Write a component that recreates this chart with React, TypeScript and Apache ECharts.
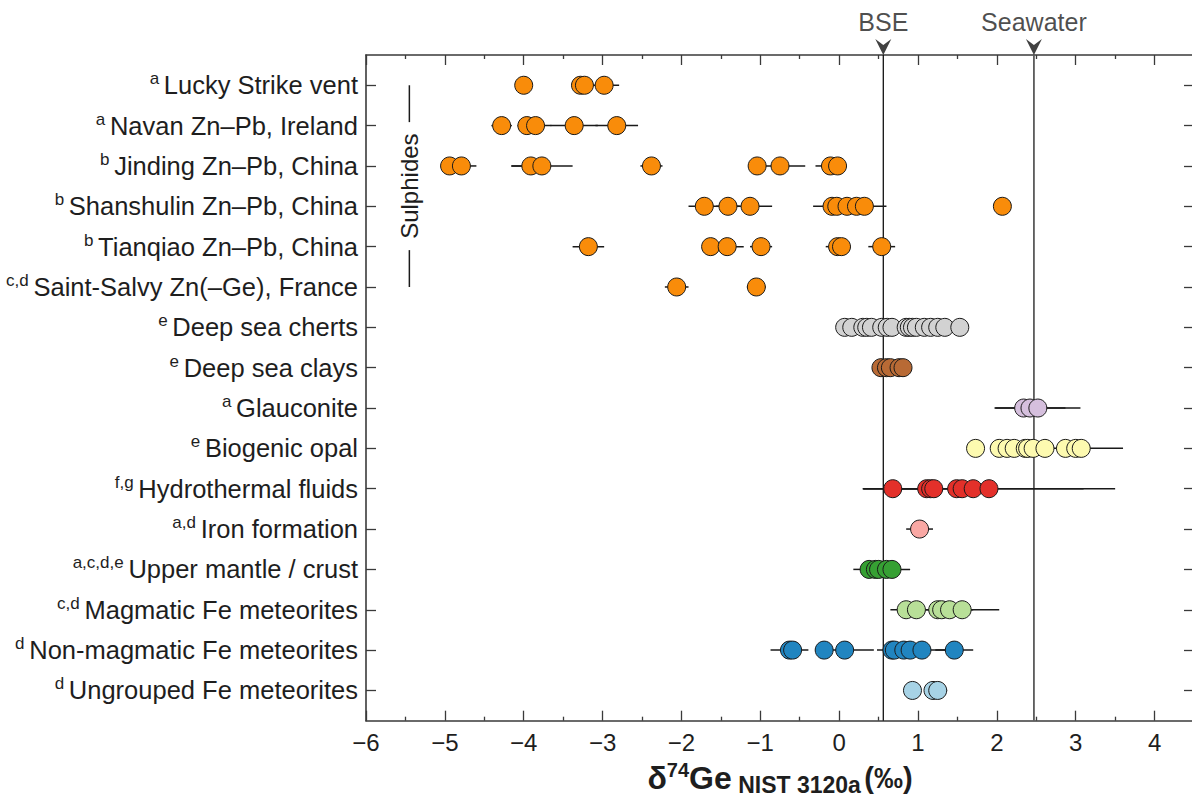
import React, { useEffect, useRef } from "react";
import * as echarts from "echarts";

// ---- categories (top to bottom) ----
const categoryNames = [
  "Lucky Strike vent",
  "Navan Zn–Pb, Ireland",
  "Jinding Zn–Pb, China",
  "Shanshulin Zn–Pb, China",
  "Tianqiao Zn–Pb, China",
  "Saint-Salvy Zn(–Ge), France",
  "Deep sea cherts",
  "Deep sea clays",
  "Glauconite",
  "Biogenic opal",
  "Hydrothermal fluids",
  "Iron formation",
  "Upper mantle / crust",
  "Magmatic Fe meteorites",
  "Non-magmatic Fe meteorites",
  "Ungrouped Fe meteorites",
];
const footnotes = ["a", "a", "b", "b", "b", "c,d", "e", "e", "a", "e", "f,g", "a,d", "a,c,d,e", "c,d", "d", "d"];

// ---- δ74Ge values (‰) and ± errors ----
const luckyStrike = [-4.0, -3.28, -3.23, -2.98];
const luckyStrikeErr = [0, 0.11, 0.08, 0.19];
const navan = [-4.28, -3.96, -3.85, -3.36, -2.82];
const navanErr = [0.13, 0.12, 0.2, 0.3, 0.27];
const jinding = [-4.94, -4.79, -3.91, -3.77, -2.38, -1.04, -0.75, -0.11, -0.02];
const jindingErr = [0.1, 0.19, 0.24, 0.39, 0.14, 0.1, 0.32, 0.19, 0.11];
const shanshulin = [-1.71, -1.41, -1.13, -0.09, -0.03, 0.1, 0.22, 0.32, 2.07];
const shanshulinErr = [0.2, 0.15, 0.28, 0.24, 0.1, 0.12, 0.15, 0.28, 0.05];
const tianqiao = [-3.18, -1.63, -1.42, -0.99, -0.02, 0.03, 0.54];
const tianqiaoErr = [0.2, 0.1, 0.21, 0.14, 0.15, 0.12, 0.17];
const saintSalvy = [-2.06, -1.05];
const saintSalvyErr = [0.15, 0.12];
const cherts = [0.07, 0.16, 0.3, 0.35, 0.41, 0.54, 0.61, 0.67, 0.85, 0.89, 0.93, 0.98, 1.08, 1.16, 1.25, 1.34, 1.53];
const chertsErr = [0, 0, 0, 0, 0, 0, 0, 0, 0, 0, 0, 0, 0, 0, 0, 0, 0];
const clays = [0.53, 0.6, 0.65, 0.76, 0.81];
const claysErr = [0, 0, 0, 0, 0];
const glauconite = [2.34, 2.42, 2.52];
const glauconiteErr = [0.1, 0.45, 0.54];
const opal = [1.73, 2.03, 2.13, 2.22, 2.36, 2.39, 2.46, 2.61, 2.87, 3.0, 3.07];
const opalErr = [0, 0, 0, 0, 0, 0, 0, 0, 0, 0, 0.53];
const hydrothermal = [0.68, 1.11, 1.16, 1.2, 1.49, 1.56, 1.7, 1.9];
const hydrothermalErr = [0.37, 0, 0, 0.5, 0, 0, 1.4, 1.6];
const ironFormation = [1.02];
const ironFormationErr = [0.17];
const upperMantle = [0.38, 0.46, 0.5, 0.6, 0.67];
const upperMantleErr = [0.2, 0, 0, 0, 0.23];
const magmatic = [0.85, 0.98, 1.25, 1.3, 1.4, 1.56];
const magmaticErr = [0.2, 0, 0, 0, 0.3, 0.47];
const nonMagmatic = [-0.63, -0.59, -0.19, 0.07, 0.67, 0.7, 0.82, 0.9, 1.05, 1.46];
const nonMagmaticErr = [0.24, 0, 0, 0.37, 0, 0.22, 0, 0, 0.3, 0.24];
const ungrouped = [0.93, 1.19, 1.25];
const ungroupedErr = [0.11, 0, 0.12];

const bseValue = 0.56;
const seawaterValue = 2.47;

const xTickValues = [-6, -5, -4, -3, -2, -1, 0, 1, 2, 3, 4];
const xMinorTickValues = [-5.5, -4.5, -3.5, -2.5, -1.5, -0.5, 0.5, 1.5, 2.5, 3.5];

const groupValues = [
  luckyStrike, navan, jinding, shanshulin, tianqiao, saintSalvy, cherts, clays,
  glauconite, opal, hydrothermal, ironFormation, upperMantle, magmatic, nonMagmatic, ungrouped,
];
const groupErrors = [
  luckyStrikeErr, navanErr, jindingErr, shanshulinErr, tianqiaoErr, saintSalvyErr, chertsErr, claysErr,
  glauconiteErr, opalErr, hydrothermalErr, ironFormationErr, upperMantleErr, magmaticErr, nonMagmaticErr, ungroupedErr,
];
const groupColors = [
  "#f98c0a", "#f98c0a", "#f98c0a", "#f98c0a", "#f98c0a", "#f98c0a",
  "#d2d2d2", "#b86a35", "#d5bfdd", "#fdfab0", "#e3302a", "#f9a8a4",
  "#36a033", "#b8df98", "#2185c0", "#a7d3e6",
];

const N = categoryNames.length;
const rowOf = (i: number) => N - i;
const rowValues = categoryNames.map((_, i) => rowOf(i));
const Y_MIN = 0.25;
const Y_MAX = 16.75;
const X_MIN = -6;
const X_MAX = 4.5;

const FONT = "'Liberation Sans', Arial, sans-serif";
const TXT = "#1e1e1e";
const AXIS = "#3a3a3a";

export default function App() {
  const ref = useRef<HTMLDivElement>(null);

  useEffect(() => {
    if (!ref.current) return;
    const chart = echarts.init(ref.current, null, { renderer: "svg" });

    const errData: number[][] = [];
    groupValues.forEach((vals, gi) => {
      vals.forEach((v, k) => {
        const e = groupErrors[gi][k];
        if (e > 0) errData.push([v - e, v + e, rowOf(gi)]);
      });
    });

    const scatterSeries = groupValues.map((vals, gi) => ({
      type: "scatter",
      name: categoryNames[gi],
      data: vals.map((v) => [v, rowOf(gi)]),
      symbol: "circle",
      symbolSize: 18,
      itemStyle: { color: groupColors[gi], borderColor: "#1a1a1a", borderWidth: 1, opacity: 1 },
      z: 5,
    }));

    const tickStyle = { color: AXIS, width: 1.3 };
    const axisLineStyle = { color: AXIS, width: 1.6 };

    const option: any = {
      animation: false,
      backgroundColor: "#ffffff",
      grid: { left: 366, top: 55, width: 828, height: 665.7, containLabel: false, outerBoundsMode: "none" },
      graphic: [
        {
          type: "text",
          x: 780,
          y: 778,
          style: {
            text: "{d|δ}{sup|74}{d|Ge}{sub| NIST 3120a} {p|(‰)}",
            align: "center",
            verticalAlign: "middle",
            rich: {
              d: { fontSize: 32, fontWeight: "bold", fill: TXT, fontFamily: FONT, lineHeight: 36 },
              sup: { fontSize: 20, fontWeight: "bold", fill: TXT, fontFamily: FONT, lineHeight: 14, verticalAlign: "top" },
              sub: { fontSize: 23, fontWeight: "bold", fill: TXT, fontFamily: FONT, lineHeight: 18, verticalAlign: "bottom" },
              p: { fontSize: 29, fontWeight: "bold", fill: TXT, fontFamily: FONT, lineHeight: 36 },
            },
          },
        },
      ],
      xAxis: [
        {
          type: "value", position: "bottom", min: X_MIN, max: X_MAX,
          axisLine: { show: true, onZero: false, lineStyle: axisLineStyle },
          axisTick: { show: true, inside: true, length: 10, customValues: xTickValues, lineStyle: tickStyle },
          axisLabel: {
            show: true, customValues: xTickValues, margin: 10, fontSize: 24, fontFamily: FONT, color: TXT,
            formatter: (v: number) => (v < 0 ? "\u2212" + Math.abs(v) : String(v)),
          },
          splitLine: { show: false },
        },
        {
          type: "value", position: "top", min: X_MIN, max: X_MAX,
          axisLine: { show: true, onZero: false, lineStyle: axisLineStyle },
          axisTick: { show: true, inside: true, length: 10, customValues: xTickValues, lineStyle: tickStyle },
          axisLabel: { show: false },
          splitLine: { show: false },
        },
        {
          type: "value", position: "bottom", min: X_MIN, max: X_MAX,
          axisLine: { show: false, onZero: false },
          axisTick: { show: true, inside: true, length: 4, customValues: xMinorTickValues, lineStyle: tickStyle },
          axisLabel: { show: false },
          splitLine: { show: false },
        },
        {
          type: "value", position: "top", min: X_MIN, max: X_MAX,
          axisLine: { show: false, onZero: false },
          axisTick: { show: true, inside: true, length: 4, customValues: xMinorTickValues, lineStyle: tickStyle },
          axisLabel: { show: false },
          splitLine: { show: false },
        },
      ],
      yAxis: [
        {
          type: "value", position: "left", min: Y_MIN, max: Y_MAX,
          axisLine: { show: true, onZero: false, lineStyle: axisLineStyle },
          axisTick: { show: true, inside: true, length: 10, customValues: rowValues, lineStyle: tickStyle },
          axisLabel: {
            show: true, customValues: rowValues, margin: 8,
            formatter: (v: number) => {
              const i = N - Math.round(v);
              return `{s|${footnotes[i]} }{t|${categoryNames[i]}}`;
            },
            rich: {
              s: { fontSize: 17, fontFamily: FONT, color: TXT, lineHeight: 12, verticalAlign: "top" },
              t: { fontSize: 25.5, fontFamily: FONT, color: TXT, lineHeight: 30 },
            },
          },
          splitLine: { show: false },
        },
        {
          type: "value", position: "right", min: Y_MIN, max: Y_MAX,
          axisLine: { show: true, onZero: false, lineStyle: axisLineStyle },
          axisTick: { show: true, inside: true, length: 10, customValues: rowValues, lineStyle: tickStyle },
          axisLabel: { show: false },
          splitLine: { show: false },
        },
      ],
      series: [
        {
          type: "line", data: [[bseValue, Y_MIN], [bseValue, Y_MAX]], symbol: "none",
          lineStyle: { color: "#111111", width: 1.3 }, z: 1, silent: true,
        },
        {
          type: "line", data: [[seawaterValue, Y_MIN], [seawaterValue, Y_MAX]], symbol: "none",
          lineStyle: { color: "#5a5a5a", width: 1.8 }, z: 1, silent: true,
        },
        {
          type: "scatter",
          data: [[bseValue, Y_MAX, "BSE"], [seawaterValue, Y_MAX, "Seawater"]],
          symbol: "path://M0,0 L8,6 L16,0 L8,16 Z",
          symbolSize: [16, 16],
          symbolOffset: [0, -8],
          clip: false,
          itemStyle: { color: "#111111" },
          label: {
            show: true, position: "top", distance: 5, fontSize: 25, fontFamily: FONT, color: TXT,
            formatter: (p: any) => p.value[2],
          },
          z: 6,
        },
        {
          type: "custom",
          data: errData,
          encode: { x: [0, 1], y: 2 },
          renderItem: (params: any, api: any) => {
            const a = api.coord([api.value(0), api.value(2)]);
            const b = api.coord([api.value(1), api.value(2)]);
            return {
              type: "line",
              shape: { x1: a[0], y1: a[1], x2: b[0], y2: b[1] },
              style: { stroke: "#1a1a1a", lineWidth: 1.5 },
            };
          },
          z: 3,
        },
        {
          type: "custom",
          data: [[-5.45, 16, 11]],
          encode: { x: 0, y: [1, 2] },
          renderItem: (params: any, api: any) => {
            const top = api.coord([api.value(0), api.value(1)]);
            const bot = api.coord([api.value(0), api.value(2)]);
            const x = top[0];
            const mid = (top[1] + bot[1]) / 2;
            const gap = 64;
            return {
              type: "group",
              children: [
                { type: "line", shape: { x1: x, y1: top[1], x2: x, y2: mid - gap }, style: { stroke: "#1a1a1a", lineWidth: 1.5 } },
                { type: "line", shape: { x1: x, y1: mid + gap, x2: x, y2: bot[1] }, style: { stroke: "#1a1a1a", lineWidth: 1.5 } },
                {
                  type: "text", x, y: mid, rotation: Math.PI / 2,
                  style: { text: "Sulphides", fontSize: 24, fontFamily: FONT, fill: TXT, align: "center", verticalAlign: "middle" },
                },
              ],
            };
          },
          z: 4,
        },
        ...scatterSeries,
      ],
    };

    chart.setOption(option);
    return () => chart.dispose();
  }, []);

  return (
    <div
      ref={ref}
      style={{ position: "absolute", left: 0, top: 0, width: 1192, height: 798, background: "#fff" }}
    />
  );
}
